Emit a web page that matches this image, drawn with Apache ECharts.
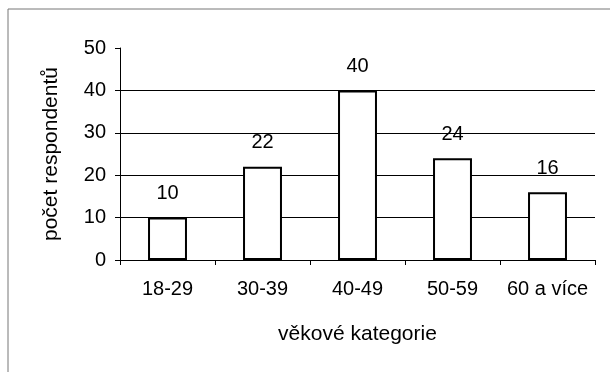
<!DOCTYPE html>
<html>
<head>
<meta charset="utf-8">
<script src="https://cdn.jsdelivr.net/npm/echarts@6/dist/echarts.min.js"></script>
<style>
  html, body { margin: 0; padding: 0; background: #fff; }
  #chart { width: 610px; height: 372px; }
</style>
</head>
<body>
<div id="chart"></div>
<script>
var categories = ['18-29', '30-39', '40-49', '50-59', '60 a více'];
var counts = [10, 22, 40, 24, 16];
var yTicks = { min: 0, max: 50, interval: 10 };

var dom = document.getElementById('chart');
var myChart = echarts.init(dom, null, { renderer: 'canvas' });

var font = 'Liberation Sans, Arial, sans-serif';

var option = {
  backgroundColor: '#fff',
  animation: false,
  textStyle: { fontFamily: font, color: '#000' },
  graphic: [
    { type: 'line', shape: { x1: 8, y1: 9, x2: 610, y2: 9 }, style: { stroke: '#777', lineWidth: 1 } },
    { type: 'line', shape: { x1: 8, y1: 9, x2: 8, y2: 372 }, style: { stroke: '#777', lineWidth: 1 } }
  ],
  grid: { left: 120, right: 15, top: 48, bottom: 112 },
  xAxis: {
    type: 'category',
    data: categories,
    name: 'věkové kategorie',
    nameLocation: 'middle',
    nameGap: 64,
    nameTextStyle: { fontSize: 21, color: '#000', fontFamily: font },
    axisLine: { lineStyle: { color: '#000', width: 1 } },
    axisTick: { show: true, length: 5, lineStyle: { color: '#000' } },
    axisLabel: { interval: 0, hideOverlap: false, fontSize: 20, color: '#000', margin: 19, fontFamily: font }
  },
  yAxis: {
    type: 'value',
    min: yTicks.min,
    max: yTicks.max,
    interval: yTicks.interval,
    name: 'počet respondentů',
    nameLocation: 'middle',
    nameGap: 58,
    nameRotate: 90,
    nameTextStyle: { fontSize: 21, color: '#000', fontFamily: font },
    axisLine: { show: true, lineStyle: { color: '#000', width: 1 } },
    axisTick: { show: true, length: 5, lineStyle: { color: '#000' } },
    axisLabel: { fontSize: 20, color: '#000', margin: 14, fontFamily: font },
    splitLine: { show: true, showMaxLine: false, lineStyle: { color: '#000', width: 1 } }
  },
  series: [
    {
      type: 'bar',
      data: counts,
      barWidth: '41%',
      itemStyle: { color: '#fff', borderColor: '#000', borderWidth: 2 },
      label: {
        show: true,
        position: 'top',
        distance: 14,
        fontSize: 20,
        color: '#000',
        fontFamily: font
      }
    }
  ]
};

myChart.setOption(option);
window.addEventListener('resize', myChart.resize);
</script>
</body>
</html>
